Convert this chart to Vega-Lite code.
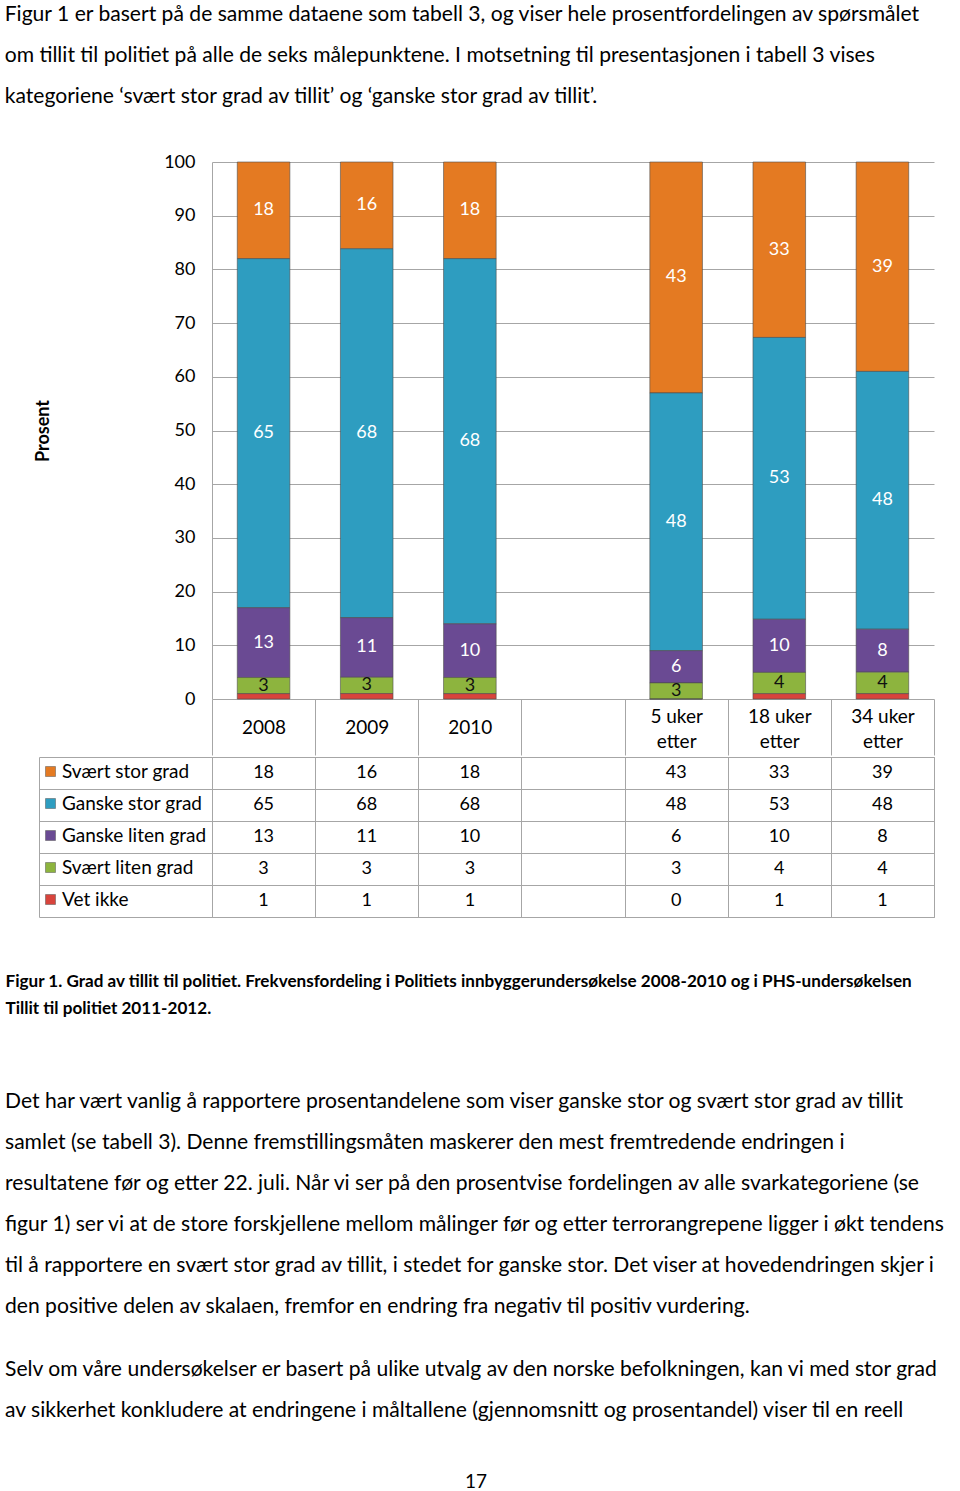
{
  "$schema": "https://vega.github.io/schema/vega-lite/v6.json",
  "padding": {"left": 4, "top": 3, "right": 3, "bottom": 0},
  "background": "white",
  "config": {"font": "Lato", "view": {"stroke": null}},
  "title": {"text": "17", "orient": "bottom", "anchor": "middle", "frame": "bounds", "fontSize": 19, "fontWeight": "normal", "color": "black", "offset": 51},
  "datasets": {
    "d": [
      {"cat": "2008", "series": "Svært stor grad", "rank": 5, "value": 18},
      {"cat": "2008", "series": "Ganske stor grad", "rank": 4, "value": 65},
      {"cat": "2008", "series": "Ganske liten grad", "rank": 3, "value": 13},
      {"cat": "2008", "series": "Svært liten grad", "rank": 2, "value": 3},
      {"cat": "2008", "series": "Vet ikke", "rank": 1, "value": 1},
      {"cat": "2009", "series": "Svært stor grad", "rank": 5, "value": 16},
      {"cat": "2009", "series": "Ganske stor grad", "rank": 4, "value": 68},
      {"cat": "2009", "series": "Ganske liten grad", "rank": 3, "value": 11},
      {"cat": "2009", "series": "Svært liten grad", "rank": 2, "value": 3},
      {"cat": "2009", "series": "Vet ikke", "rank": 1, "value": 1},
      {"cat": "2010", "series": "Svært stor grad", "rank": 5, "value": 18},
      {"cat": "2010", "series": "Ganske stor grad", "rank": 4, "value": 68},
      {"cat": "2010", "series": "Ganske liten grad", "rank": 3, "value": 10},
      {"cat": "2010", "series": "Svært liten grad", "rank": 2, "value": 3},
      {"cat": "2010", "series": "Vet ikke", "rank": 1, "value": 1},
      {"cat": "5 uker etter", "series": "Svært stor grad", "rank": 5, "value": 43},
      {"cat": "5 uker etter", "series": "Ganske stor grad", "rank": 4, "value": 48},
      {"cat": "5 uker etter", "series": "Ganske liten grad", "rank": 3, "value": 6},
      {"cat": "5 uker etter", "series": "Svært liten grad", "rank": 2, "value": 3},
      {"cat": "5 uker etter", "series": "Vet ikke", "rank": 1, "value": 0},
      {"cat": "18 uker etter", "series": "Svært stor grad", "rank": 5, "value": 33},
      {"cat": "18 uker etter", "series": "Ganske stor grad", "rank": 4, "value": 53},
      {"cat": "18 uker etter", "series": "Ganske liten grad", "rank": 3, "value": 10},
      {"cat": "18 uker etter", "series": "Svært liten grad", "rank": 2, "value": 4},
      {"cat": "18 uker etter", "series": "Vet ikke", "rank": 1, "value": 1},
      {"cat": "34 uker etter", "series": "Svært stor grad", "rank": 5, "value": 39},
      {"cat": "34 uker etter", "series": "Ganske stor grad", "rank": 4, "value": 48},
      {"cat": "34 uker etter", "series": "Ganske liten grad", "rank": 3, "value": 8},
      {"cat": "34 uker etter", "series": "Svært liten grad", "rank": 2, "value": 4},
      {"cat": "34 uker etter", "series": "Vet ikke", "rank": 1, "value": 1}
    ]
  },
  "spacing": 0,
  "vconcat": [
    {
      "width": 722,
      "height": 537,
      "title": {
        "text": [
          "Figur 1 er basert på de samme dataene som tabell 3, og viser hele prosentfordelingen av spørsmålet",
          "om tillit til politiet på alle de seks målepunktene. I motsetning til presentasjonen i tabell 3 vises",
          "kategoriene ‘svært stor grad av tillit’ og ‘ganske stor grad av tillit’."
        ],
        "anchor": "start", "frame": "bounds", "dx": -30, "fontSize": 21.1, "fontWeight": "normal",
        "lineHeight": 41, "offset": 46, "color": "black"
      },
      "data": {"name": "d"},
      "encoding": {
        "x": {
          "field": "cat", "type": "nominal",
          "scale": {"domain": ["2008", "2009", "2010", " ", "5 uker etter", "18 uker etter", "34 uker etter"], "paddingInner": 0, "paddingOuter": 0},
          "axis": {
            "title": null, "orient": "bottom", "labelAngle": 0, "domain": false, "ticks": true, "tickBand": "extent",
            "tickSize": 56, "tickColor": "#a6a6a6",
            "labelPadding": {"condition": {"test": "indexof(datum.label, ' etter') > 0", "value": -39}, "value": -28},
            "labelBaseline": "middle",
            "labelFontSize": 19, "labelLineHeight": 25, "labelColor": "black",
            "labelExpr": "indexof(datum.label, ' etter') > 0 ? [replace(datum.label, ' etter', ''), 'etter'] : datum.label"
          }
        },
        "y": {
          "field": "value", "type": "quantitative", "stack": "normalize",
          "scale": {"domain": [0, 1]},
          "axis": {
            "values": [0, 0.1, 0.2, 0.3, 0.4, 0.5, 0.6, 0.7, 0.8, 0.9, 1],
            "labelExpr": "round(datum.value * 100)", "title": "Prosent", "titleFontSize": 18,
            "titleFontWeight": "bold", "titleColor": "black", "titlePadding": 111, "labelFontSize": 18,
            "labelPadding": 17, "labelColor": "black", "ticks": false, "domain": true,
            "domainColor": "#a6a6a6", "grid": true, "gridColor": "#a6a6a6"
          }
        }
      },
      "layer": [
        {
          "mark": {"type": "bar", "stroke": "#4d4d4d", "strokeWidth": 0.6, "width": {"band": 0.51}},
          "encoding": {
            "color": {
              "field": "series", "type": "nominal",
              "scale": {
                "domain": ["Svært stor grad", "Ganske stor grad", "Ganske liten grad", "Svært liten grad", "Vet ikke"],
                "range": ["#E47A22", "#2E9DC0", "#6A4A93", "#8DB43E", "#D8443C"]
              },
              "legend": {
                "orient": "none", "legendX": -171, "legendY": 600, "title": null, "symbolType": "square",
                "symbolSize": 100, "labelFontSize": 19, "labelColor": "black", "rowPadding": 12,
                "labelOffset": 2, "symbolStrokeColor": "#555555", "symbolStrokeWidth": 0.5
              }
            },
            "order": {"field": "rank", "type": "quantitative"}
          }
        },
        {
          "mark": {"type": "text", "fontSize": 18, "baseline": "middle"},
          "encoding": {
            "y": {"field": "value", "type": "quantitative", "stack": "normalize", "bandPosition": 0.5},
            "detail": {"field": "series", "type": "nominal"},
            "order": {"field": "rank", "type": "quantitative"},
            "text": {"condition": {"test": "datum.series === 'Vet ikke'", "value": ""}, "field": "value", "type": "quantitative"},
            "color": {"condition": {"test": "datum.series === 'Svært liten grad'", "value": "#111111"}, "value": "white"}
          }
        }
      ]
    },
    {
      "width": 722,
      "height": 160,
      "view": {"stroke": "#a6a6a6"},
      "title": {
        "text": [
          "Det har vært vanlig å rapportere prosentandelene som viser ganske stor og svært stor grad av tillit",
          "samlet (se tabell 3). Denne fremstillingsmåten maskerer den mest fremtredende endringen i",
          "resultatene før og etter 22. juli. Når vi ser på den prosentvise fordelingen av alle svarkategoriene (se",
          "figur 1) ser vi at de store forskjellene mellom målinger før og etter terrorangrepene ligger i økt tendens",
          "til å rapportere en svært stor grad av tillit, i stedet for ganske stor. Det viser at hovedendringen skjer i",
          "den positive delen av skalaen, fremfor en endring fra negativ til positiv vurdering."
        ],
        "subtitle": [
          "Selv om våre undersøkelser er basert på ulike utvalg av den norske befolkningen, kan vi med stor grad",
          "av sikkerhet konkludere at endringene i måltallene (gjennomsnitt og prosentandel) viser til en reell"
        ],
        "orient": "bottom", "anchor": "start", "frame": "bounds", "fontSize": 21.1, "fontWeight": "normal",
        "lineHeight": 41, "subtitleFontSize": 21.1, "subtitleLineHeight": 41, "subtitlePadding": 42,
        "subtitleColor": "black", "color": "black", "offset": 75
      },
      "data": {"name": "d"},
      "mark": {"type": "text", "fontSize": 18, "color": "black"},
      "encoding": {
        "x": {
          "field": "cat", "type": "nominal",
          "scale": {"domain": ["2008", "2009", "2010", " ", "5 uker etter", "18 uker etter", "34 uker etter"], "paddingInner": 0, "paddingOuter": 0},
          "axis": {
            "orient": "bottom", "labels": false, "ticks": false, "domain": false, "grid": true, "tickBand": "extent",
            "gridColor": "#a6a6a6",
            "title": ["Figur 1. Grad av tillit til politiet. Frekvensfordeling i Politiets innbyggerundersøkelse 2008-2010 og i PHS-undersøkelsen", "Tillit til politiet 2011-2012."],
            "titleFontSize": 17.1, "titleFontWeight": "bold", "titleColor": "black", "titleAnchor": "start",
            "titleAlign": "left", "titleX": -207, "titlePadding": 55, "titleLineHeight": 27, "titleBaseline": "top"
          }
        },
        "y": {
          "field": "series", "type": "nominal",
          "scale": {"domain": ["Svært stor grad", "Ganske stor grad", "Ganske liten grad", "Svært liten grad", "Vet ikke"], "paddingInner": 0, "paddingOuter": 0},
          "axis": {
            "labels": false, "title": null, "offset": 173, "tickSize": -173, "tickBand": "extent", "grid": true,
            "domain": true, "domainColor": "#a6a6a6", "tickColor": "#a6a6a6", "gridColor": "#a6a6a6"
          }
        },
        "text": {"field": "value", "type": "quantitative"}
      }
    }
  ]
}
